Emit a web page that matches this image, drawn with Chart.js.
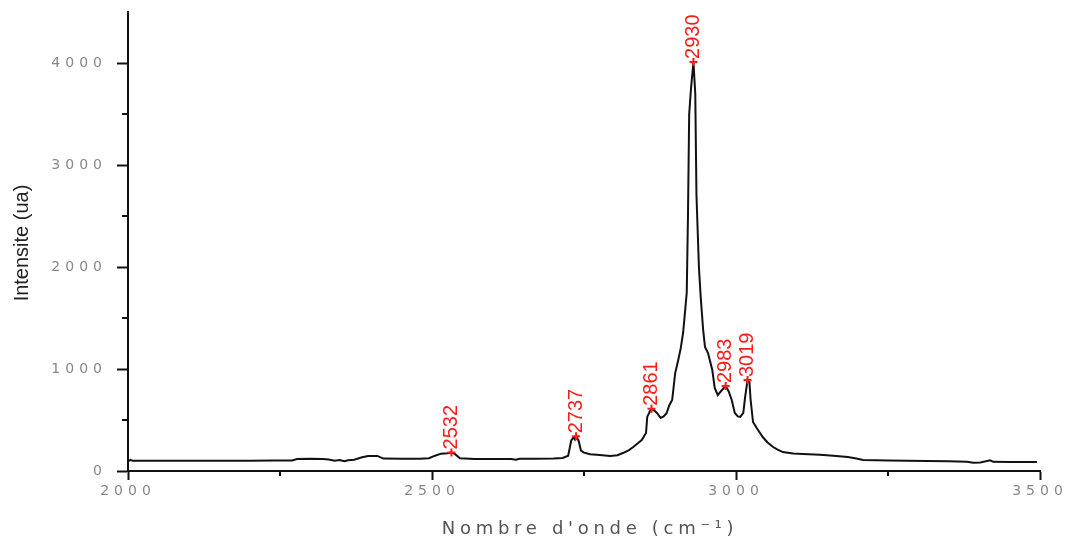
<!DOCTYPE html>
<html>
<head>
<meta charset="utf-8">
<script src="https://cdn.jsdelivr.net/npm/chart.js@4.4.1/dist/chart.umd.min.js"></script>
<style>
  body { margin: 0; background: #fff; }
  canvas { display: block; }
</style>
</head>
<body>
<canvas id="spectre" width="1072" height="544"></canvas>
<script>
// spectre Raman : nombre d'onde (cm-1) / intensite (ua)
const wavenumbers = [
  2000, 2004, 2008, 2050, 2100, 2150, 2200, 2240, 2270, 2278, 2300, 2320, 2330, 2340, 2348, 2356, 2362, 2372,
  2385, 2395, 2410, 2420, 2450, 2480, 2495, 2505, 2515, 2525, 2532, 2538, 2546, 2570, 2600, 2630, 2638, 2644,
  2670, 2700, 2715, 2724, 2729, 2733, 2735, 2737, 2741, 2745, 2750, 2760, 2776, 2793, 2805, 2814, 2824, 2831,
  2840, 2845, 2852, 2854, 2858, 2861, 2866, 2870, 2876, 2881, 2886, 2890, 2895, 2900, 2905, 2909, 2913, 2916,
  2919, 2921, 2923, 2926, 2930, 2933, 2935, 2939, 2942, 2946, 2949, 2954, 2961, 2965, 2970, 2977, 2983, 2988,
  2993, 2998, 3003, 3007, 3012, 3015, 3019, 3022, 3024, 3028, 3034, 3044, 3052, 3061, 3067, 3077, 3094, 3110,
  3138, 3160, 3184, 3200, 3209, 3250, 3314, 3350, 3380, 3390, 3402, 3418, 3423, 3450, 3495
];
const intensity = [
  95, 110, 100, 100, 100, 100, 101, 102, 103, 118, 120, 118, 112, 100, 108, 96, 106, 110,
  135, 148, 148, 122, 120, 120, 125, 150, 170, 175, 182, 165, 125, 118, 117, 118, 110, 120,
  120, 122, 128, 150, 300, 330, 310, 340, 300, 200, 180, 165, 157, 147, 155, 176, 205, 235,
  280, 304, 372, 530, 580, 610, 590, 569, 520, 535, 569, 640, 696, 960, 1088, 1200, 1353, 1550,
  1750, 2500, 3500, 3750, 4010, 3700, 2700, 2000, 1700, 1382, 1216, 1157, 990, 814, 745, 794, 833, 780,
  696, 569, 535, 530, 569, 725, 892, 880, 700, 480, 421, 333, 280, 235, 215, 186, 172, 167,
  160, 150, 137, 120, 108, 102, 98, 96, 90, 80, 84, 105, 90, 88, 88
];
const peaks = [2532, 2737, 2861, 2930, 2983, 3019];

const xTicks = [2000, 2500, 3000, 3500];
const xMinorTicks = [2250, 2750, 3250];
const yTicks = [0, 1000, 2000, 3000, 4000];
const yMinorTicks = [500, 1500, 2500, 3500];

const spectrum = wavenumbers.map((w, i) => ({ x: w, y: intensity[i] }));
const peakPoints = peaks.map(p => ({ x: p, y: intensity[wavenumbers.indexOf(p)] }));

// petits traits, etiquettes des pics et titres des axes
const extras = {
  id: 'extras',
  beforeDraw(chart) {
    chart.ctx.letterSpacing = '5px';
  },
  afterDraw(chart) {
    const ctx = chart.ctx;
    const xs = chart.scales.x, ys = chart.scales.y;
    const area = chart.chartArea;
    ctx.save();
    ctx.letterSpacing = '0px';
    ctx.strokeStyle = '#111';
    ctx.lineWidth = 2;
    ctx.beginPath();
    xMinorTicks.forEach(v => {
      const px = xs.getPixelForValue(v);
      ctx.moveTo(px, area.bottom);
      ctx.lineTo(px, area.bottom + 5);
    });
    yMinorTicks.forEach(v => {
      const py = ys.getPixelForValue(v);
      ctx.moveTo(area.left, py);
      ctx.lineTo(area.left - 6, py);
    });
    ctx.stroke();

    // valeurs des pics, ecrites verticalement
    ctx.fillStyle = '#ff1a1a';
    ctx.font = '20px "Liberation Sans", Arial, sans-serif';
    ctx.textAlign = 'left';
    ctx.textBaseline = 'middle';
    peakPoints.forEach(p => {
      const px = xs.getPixelForValue(p.x);
      const py = ys.getPixelForValue(p.y);
      ctx.save();
      ctx.translate(px, py - 3);
      ctx.rotate(-Math.PI / 2);
      ctx.fillText(String(p.x), 0, 0);
      ctx.restore();
    });

    // titres
    ctx.fillStyle = '#222';
    ctx.font = '20px "Liberation Sans", Arial, sans-serif';
    ctx.textAlign = 'center';
    ctx.save();
    ctx.translate(22, 243);
    ctx.rotate(-Math.PI / 2);
    ctx.fillText('Intensite (ua)', 0, 0);
    ctx.restore();

    ctx.fillStyle = '#555';
    ctx.font = '18px "DejaVu Sans", sans-serif';
    ctx.letterSpacing = '4.7px';
    ctx.fillText('Nombre d\'onde (cm\u207B\u00B9)', 590, 529);
    ctx.restore();
  }
};

new Chart(document.getElementById('spectre'), {
  type: 'line',
  data: {
    datasets: [
      {
        data: peakPoints,
        showLine: false,
        pointStyle: 'cross',
        pointRadius: 4,
        pointBorderColor: '#ff1a1a',
        pointBorderWidth: 2
      },
      {
        data: spectrum,
        borderColor: '#111',
        borderWidth: 2,
        pointRadius: 0,
        tension: 0,
        fill: false
      }
    ]
  },
  options: {
    responsive: false,
    animation: false,
    devicePixelRatio: 1,
    layout: { padding: { top: 12, right: 32, left: 0, bottom: 0 } },
    plugins: { legend: { display: false }, tooltip: { enabled: false } },
    scales: {
      x: {
        type: 'linear',
        min: 2000,
        max: 3500,
        afterBuildTicks: s => { s.ticks = xTicks.map(v => ({ value: v })); },
        afterFit: s => { s.height = 73; s.paddingLeft = 0; s.paddingRight = 0; },
        border: { display: true, color: '#111', width: 2 },
        grid: { drawOnChartArea: false, tickLength: 9, tickColor: '#111', tickWidth: 2 },
        ticks: {
          color: '#888',
          padding: 3,
          maxRotation: 0,
          callback: v => String(v),
          font: { family: '"DejaVu Sans", sans-serif', size: 14 }
        }
      },
      y: {
        min: 0,
        max: 4500,
        afterBuildTicks: s => { s.ticks = yTicks.map(v => ({ value: v })); },
        afterFit: s => { s.width = 128; s.paddingTop = 0; s.paddingBottom = 0; },
        border: { display: true, color: '#111', width: 2 },
        grid: { drawOnChartArea: false, tickLength: 11, tickColor: '#111', tickWidth: 2 },
        ticks: {
          color: '#888',
          padding: 10,
          callback: v => String(v),
          font: { family: '"DejaVu Sans", sans-serif', size: 14 }
        }
      }
    }
  },
  plugins: [extras]
});
</script>
</body>
</html>
